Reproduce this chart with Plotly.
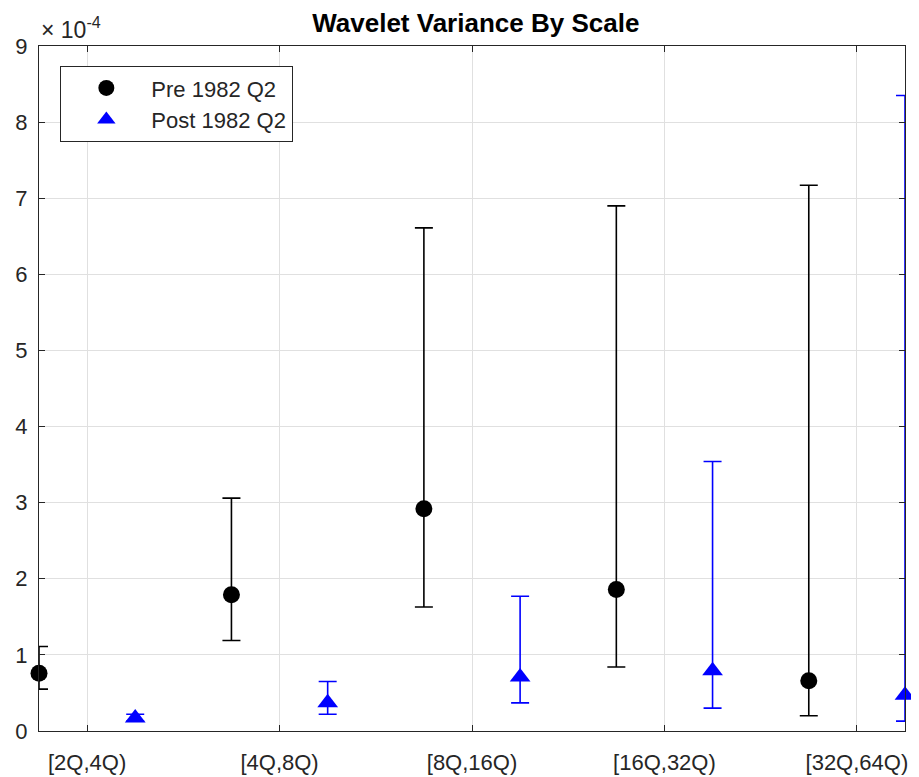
import plotly.graph_objects as go

# values in units of 1e-4
scale_labels = ["[2Q,4Q)", "[4Q,8Q)", "[8Q,16Q)", "[16Q,32Q)", "[32Q,64Q)"]
pre_x = [1, 2, 3, 4, 5]
post_x = [1.5, 2.5, 3.5, 4.5, 5.5]
tick_pos = [1.25, 2.25, 3.25, 4.25, 5.25]

pre_val = [0.76, 1.79, 2.92, 1.86, 0.66]
pre_upper = [1.11, 3.06, 6.61, 6.90, 7.17]
pre_lower = [0.55, 1.19, 1.63, 0.84, 0.20]

post_val = [0.17, 0.37, 0.71, 0.79, 0.47]
post_upper = [0.22, 0.65, 1.77, 3.54, 8.35]
post_lower = [0.13, 0.22, 0.37, 0.30, 0.13]

FONT = "Liberation Sans, Arial, Helvetica, sans-serif"
AX = "#262626"

fig = go.Figure()
fig.add_trace(go.Scatter(
    x=pre_x, y=pre_val, mode="markers", name="Pre 1982 Q2",
    marker=dict(symbol="circle", size=17, color="black"),
    error_y=dict(type="data", symmetric=False,
                 array=[u - v for u, v in zip(pre_upper, pre_val)],
                 arrayminus=[v - l for v, l in zip(pre_val, pre_lower)],
                 color="black", thickness=1.6, width=9),
    cliponaxis=False,
))
fig.add_trace(go.Scatter(
    x=post_x, y=post_val, mode="markers", name="Post 1982 Q2",
    marker=dict(symbol="triangle-up", size=18, color="blue"),
    error_y=dict(type="data", symmetric=False,
                 array=[u - v for u, v in zip(post_upper, post_val)],
                 arrayminus=[v - l for v, l in zip(post_val, post_lower)],
                 color="blue", thickness=1.6, width=9),
    cliponaxis=False,
))

# page body has an 8px margin, so the figure is shrunk by 8px and offset
fig.update_layout(
    width=911, height=769,
    margin=dict(l=31, r=14, t=38, b=46),
    paper_bgcolor="white", plot_bgcolor="white",
    font=dict(family=FONT, size=22, color=AX),
    title=dict(text="<b>Wavelet Variance By Scale</b>", x=0.5135, xanchor="center",
               y=0.981, yanchor="middle", font=dict(size=26, color="black")),
    xaxis=dict(range=[1, 5.5], tickvals=tick_pos, ticktext=scale_labels,
               showgrid=True, gridcolor="#e0e0e0", gridwidth=1,
               showline=True, linecolor=AX, linewidth=1.3, mirror="ticks",
               ticks="inside", ticklen=6, tickcolor=AX, zeroline=False,
               automargin=False, ticklabelstandoff=11,
               tickfont=dict(size=22, color=AX)),
    yaxis=dict(range=[0, 9], tickvals=list(range(10)),
               showgrid=True, gridcolor="#e0e0e0", gridwidth=1,
               showline=True, linecolor=AX, linewidth=1.3, mirror="ticks",
               ticks="inside", ticklen=6, tickcolor=AX, zeroline=False,
               automargin=False, ticklabelstandoff=6,
               tickfont=dict(size=22, color=AX)),
    legend=dict(x=0.0243, y=0.971, xanchor="left", yanchor="top",
                bgcolor="white", bordercolor=AX, borderwidth=1.3,
                font=dict(size=22, color=AX), itemwidth=80,
                tracegroupgap=0),
    showlegend=True,
)
fig.add_annotation(text="× 10<sup>-4</sup>", xref="paper", yref="paper",
                   x=0.0, y=1.0, xanchor="left", yanchor="bottom", yshift=1,
                   showarrow=False, font=dict(size=23, color=AX))

fig.write_html("out.html")
